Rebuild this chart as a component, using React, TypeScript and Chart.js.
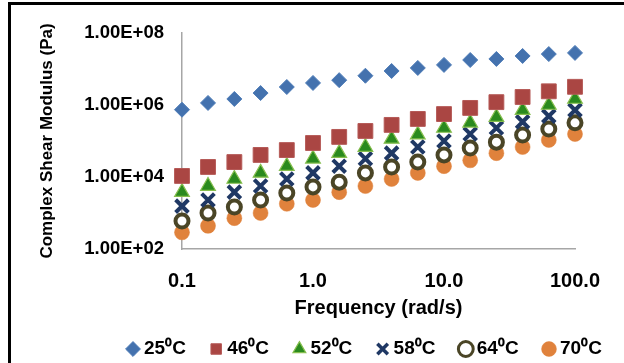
import React, { useEffect, useRef } from 'react';
import { Chart, registerables } from 'chart.js';

Chart.register(...registerables);

// ---- data ----
const frequencies = [0.1, 0.158, 0.251, 0.398, 0.631, 1.0, 1.585, 2.512, 3.981, 6.31, 10.0, 15.85, 25.12, 39.81, 63.1, 100.0];
const g25 = [7.4e5, 1.14e6, 1.47e6, 2.15e6, 3.16e6, 4.1e6, 4.9e6, 6.5e6, 8.8e6, 1.07e7, 1.3e7, 1.78e7, 1.9e7, 2.3e7, 2.6e7, 2.8e7];
const g46 = [1.07e4, 1.9e4, 2.6e4, 4.1e4, 5.6e4, 8.8e4, 1.3e5, 1.9e5, 2.8e5, 4.1e5, 5.6e5, 8.3e5, 1.2e6, 1.67e6, 2.4e6, 3.2e6];
const g52 = [3.8e3, 5.6e3, 8.8e3, 1.3e4, 2.0e4, 3.2e4, 4.6e4, 6.8e4, 1.14e5, 1.5e5, 2.3e5, 3.2e5, 4.6e5, 7.2e5, 1.0e6, 1.47e6];
const g58 = [1.55e3, 2.3e3, 3.8e3, 5.6e3, 8.8e3, 1.3e4, 2.0e4, 3.2e4, 4.6e4, 6.8e4, 1.0e5, 1.56e5, 2.3e5, 3.4e5, 4.9e5, 7.2e5];
const g64 = [6.0e2, 1.0e3, 1.47e3, 2.3e3, 3.6e3, 5.3e3, 7.2e3, 1.3e4, 1.9e4, 2.6e4, 4.1e4, 6.4e4, 9.3e4, 1.47e5, 2.15e5, 3.2e5];
const g70 = [2.9e2, 4.4e2, 7.2e2, 1.0e3, 1.8e3, 2.3e3, 3.8e3, 5.6e3, 8.8e3, 1.3e4, 2.0e4, 2.9e4, 4.6e4, 6.8e4, 1.07e5, 1.56e5];
const seriesNames = ['25\u2070C', '46\u2070C', '52\u2070C', '58\u2070C', '64\u2070C', '70\u2070C'];

const xTicks = [0.1, 1, 10, 100];
const xTickLabels = ['0.1', '1.0', '10.0', '100.0'];
const yTicks = [1e2, 1e4, 1e6, 1e8];
const yTickLabels = ['1.00E+02', '1.00E+04', '1.00E+06', '1.00E+08'];
const xTitle = 'Frequency (rad/s)';
const yTitle = 'Complex Shear Modulus (Pa)';

const FONT = '"Liberation Sans", Arial, Helvetica, sans-serif';

export default function App() {
  const ref = useRef<HTMLCanvasElement>(null);

  useEffect(() => {
    const canvas = ref.current;
    if (!canvas) return;
    const W = 624;
    const H = 363;
    // target plot geometry
    const plotL = 182, plotR = 575, plotT = 33, plotB = 249;
    // legend geometry
    const LEG_SIZE = 19;
    const BOXW = 3;
    const STEP = 83.2;
    const LEG_X0 = 131.5;
    const LEG_CY = 349;

    const mctx = document.createElement('canvas').getContext('2d')!;
    mctx.font = `bold ${LEG_SIZE}px ${FONT}`;
    const widths = seriesNames.map((s) => mctx.measureText(s).width);
    const avgW = widths.reduce((a, b) => a + b, 0) / widths.length;
    const legPad = STEP - BOXW - LEG_SIZE / 2 - avgW;
    const L = widths.reduce((a, w) => a + BOXW + LEG_SIZE / 2 + w + legPad, 0);
    const padRight = W + legPad - L - 2 * LEG_X0;
    const rightAxisW = W - padRight - plotR;
    const legendTop = LEG_CY - LEG_SIZE / 2 - legPad;
    const legendH = H - legendTop;
    const xAxisH = legendTop - plotB;
    const xTitleCenter = 308;
    const xTitleLH = 20 * 1.2;
    const xTitlePadBottom = legendTop - xTitleLH / 2 - xTitleCenter;
    const yTitleLH = 17 * 1.2;
    const yTitlePadTop = 47 - yTitleLH / 2;

    const mk = (
      label: string,
      values: number[],
      style: string,
      radius: number,
      bg: string,
      border: string,
      bw: number
    ) => ({
      label,
      data: frequencies.map((f, i) => ({ x: f, y: values[i] })),
      pointStyle: style,
      pointRadius: radius,
      pointBackgroundColor: bg,
      pointBorderColor: border,
      pointBorderWidth: bw,
      backgroundColor: bg,
      borderColor: border,
      borderWidth: bw,
      showLine: false,
      clip: false,
    });

    const datasets = [
      mk(seriesNames[0], g25, 'rectRot', 7.5, '#4472AE', '#4F7DB8', 1),
      mk(seriesNames[1], g46, 'rect', 10.5, '#AA4643', '#B55A57', 1),
      mk(seriesNames[2], g52, 'triangle', 8.5, '#2A8A1E', '#86BE4E', 1.2),
      mk(seriesNames[3], g58, 'crossRot', 9, '#1F3864', '#1F3864', 4),
      mk(seriesNames[4], g64, 'circle', 6.5, '#FFFFFF', '#4A4526', 4),
      mk(seriesNames[5], g70, 'circle', 7.5, '#E0823C', '#E0823C', 0.5),
    ];

    const legendLineWidths = [1, 1, 1.2, 3.5, 3, 0.5];

    const frame = {
      id: 'frame',
      beforeDraw(chart: any) {
        const ctx = chart.ctx;
        ctx.save();
        ctx.fillStyle = '#FFFFFF';
        ctx.fillRect(0, 0, W, H);
        ctx.strokeStyle = '#000000';
        ctx.lineWidth = 3;
        ctx.strokeRect(9.5, 3.5, 800, 600);
        ctx.restore();
      },
    };

    const defaultGen = (Chart.defaults as any).plugins.legend.labels.generateLabels;

    const chart = new Chart(canvas, {
      type: 'scatter',
      data: { datasets: datasets as any },
      options: {
        animation: false,
        responsive: false,
        events: [],
        color: '#000000',
        layout: { padding: { left: 0, right: padRight, top: plotT, bottom: 0 } },
        plugins: {
          tooltip: { enabled: false },
          legend: {
            display: true,
            position: 'bottom',
            align: 'center',
            maxHeight: legendH,
            labels: {
              usePointStyle: true,
              boxWidth: BOXW,
              boxHeight: 10.5,
              padding: legPad,
              color: '#000000',
              font: { family: FONT, size: LEG_SIZE, weight: 'bold' },
              generateLabels: (c: any) =>
                defaultGen(c).map((item: any, i: number) => ({ ...item, lineWidth: legendLineWidths[i] })),
            },
          },
        },
        scales: {
          x: {
            type: 'logarithmic',
            position: 'bottom',
            min: 0.1,
            max: 100,
            afterBuildTicks: (scale: any) => {
              scale.ticks = xTicks.map((v) => ({ value: v }));
            },
            afterFit: (scale: any) => {
              scale.height = xAxisH;
            },
            ticks: {
              autoSkip: false,
              maxRotation: 0,
              padding: 20.5,
              color: '#000000',
              font: { family: FONT, size: 20, weight: 'bold' },
              callback: (v: any) => {
                const i = xTicks.findIndex((t) => Math.abs(t - Number(v)) < 1e-9 * Math.max(1, t));
                return i >= 0 ? xTickLabels[i] : '';
              },
            },
            grid: { display: false, drawTicks: false },
            border: { display: true, color: '#A6A6A6', width: 1.5 },
            title: {
              display: true,
              text: xTitle,
              color: '#000000',
              font: { family: FONT, size: 20, weight: 'bold' },
              padding: { top: 0, bottom: xTitlePadBottom },
            },
          },
          y: {
            type: 'logarithmic',
            position: 'left',
            min: 1e2,
            max: 1e8,
            afterBuildTicks: (scale: any) => {
              scale.ticks = yTicks.map((v) => ({ value: v }));
            },
            afterFit: (scale: any) => {
              scale.width = plotL;
            },
            ticks: {
              autoSkip: false,
              padding: 18,
              color: '#000000',
              font: { family: FONT, size: 18.5, weight: 'bold' },
              callback: (v: any) => {
                const i = yTicks.findIndex((t) => Math.abs(t - Number(v)) < 1e-6 * t);
                return i >= 0 ? yTickLabels[i] : '';
              },
            },
            grid: { display: false, drawTicks: false },
            border: { display: true, color: '#A6A6A6', width: 1.5 },
            title: {
              display: true,
              text: yTitle,
              color: '#000000',
              font: { family: FONT, size: 17, weight: 'bold' },
              padding: { top: yTitlePadTop, bottom: 0 },
            },
          },
          yRight: {
            type: 'linear',
            position: 'right',
            display: true,
            afterFit: (scale: any) => {
              scale.width = rightAxisW;
            },
            ticks: { display: false },
            grid: { display: false, drawTicks: false },
            border: { display: false },
          },
        },
      } as any,
      plugins: [frame],
    });

    return () => chart.destroy();
  }, []);

  return (
    <div style={{ position: 'fixed', left: 0, top: 0, width: 624, height: 363, background: '#fff' }}>
      <canvas ref={ref} width={624} height={363} style={{ display: 'block', width: 624, height: 363 }} />
    </div>
  );
}
